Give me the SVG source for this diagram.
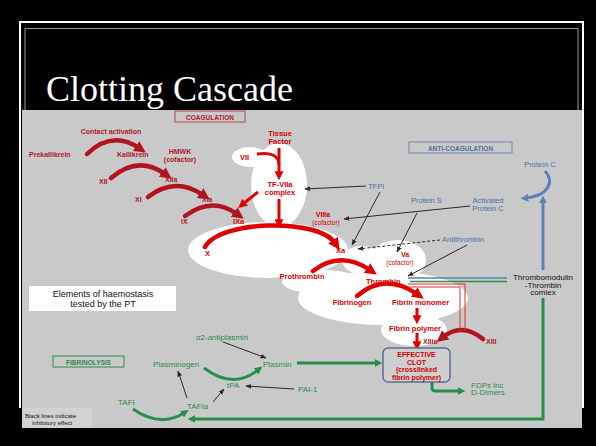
<svg xmlns="http://www.w3.org/2000/svg" width="596" height="446" viewBox="0 0 596 446">
<defs>
<style>
text{font-family:"Liberation Sans",Arial,sans-serif}
.dr{fill:#b01828;font-size:7px;font-weight:bold}
.br{fill:#d40000;font-size:7.5px;font-weight:bold}
.bl{fill:#4f70a8;font-size:7.5px}
.gr{fill:#2e8b4e;font-size:8px}
.bk{fill:#111;font-size:8px}
.c{text-anchor:middle}
.blob{fill:#fff}
.arcD{fill:none;stroke:#b3121f;stroke-width:4.5;stroke-linecap:round}
.arcR{fill:none;stroke:#e00000;stroke-width:4.5;stroke-linecap:round}
.lnR{fill:none;stroke:#e00000;stroke-width:3}
.inh{fill:none;stroke:#2a2a2a;stroke-width:1}
.grL{fill:none;stroke:#279048;stroke-width:3}
.blL{fill:none;stroke:#5b80b8;stroke-width:3}
</style>
<marker id="hD" viewBox="0 0 10 10" refX="3" refY="5" markerWidth="2.6" markerHeight="2.6" orient="auto"><path d="M0,0 L10,5 L0,10 z" fill="#b3121f"/></marker>
<marker id="hR" viewBox="0 0 10 10" refX="3" refY="5" markerWidth="2.6" markerHeight="2.6" orient="auto"><path d="M0,0 L10,5 L0,10 z" fill="#e00000"/></marker>
<marker id="hR3" viewBox="0 0 10 10" refX="3" refY="5" markerWidth="3" markerHeight="3" orient="auto"><path d="M0,0 L10,5 L0,10 z" fill="#e00000"/></marker>
<marker id="hG" viewBox="0 0 10 10" refX="3" refY="5" markerWidth="2.6" markerHeight="2.6" orient="auto"><path d="M0,0 L10,5 L0,10 z" fill="#279048"/></marker>
<marker id="hB" viewBox="0 0 10 10" refX="3" refY="5" markerWidth="2.6" markerHeight="2.6" orient="auto"><path d="M0,0 L10,5 L0,10 z" fill="#5b80b8"/></marker>
<marker id="hK" viewBox="0 0 10 10" refX="9" refY="5" markerWidth="6" markerHeight="6" markerUnits="userSpaceOnUse" orient="auto"><path d="M0,1 L10,5 L0,9 z" fill="#2a2a2a"/></marker>
</defs>

<rect width="596" height="446" fill="#000"/>
<path d="M19,22 H584 M20,22 V408 M583,22 V408" stroke="#fff" stroke-width="2" fill="none"/>
<path d="M25,110 V28.5 H578 V110" stroke="#9a9a9a" stroke-width="1" fill="none"/>
<rect x="22" y="110" width="560" height="318" fill="#c9c9c9"/>
<text x="46" y="101" style="font-family:'Liberation Serif',serif;font-size:36px" fill="#fff">Clotting Cascade</text>

<g id="pt-highlight">
<ellipse class="blob" cx="279" cy="185" rx="28" ry="42"/>
<ellipse class="blob" cx="250" cy="157" rx="18" ry="10"/>
<ellipse class="blob" cx="268" cy="250" rx="80" ry="28"/>
<ellipse class="blob" cx="362" cy="260" rx="20" ry="14"/>
<ellipse class="blob" cx="398" cy="260" rx="28" ry="20"/>
<ellipse class="blob" cx="322" cy="282" rx="40" ry="12"/>
<ellipse class="blob" cx="383" cy="298" rx="85" ry="27"/>
<ellipse class="blob" cx="414" cy="330" rx="33" ry="16"/>
</g>

<g id="coagulation-label"><rect x="175" y="111" width="70" height="11" fill="none" stroke="#c04050" stroke-width="1"/><text class="c" x="210" y="119.5" style="fill:#b01828;font-size:6.5px;font-weight:bold">COAGULATION</text></g>
<g id="anticoagulation-label"><rect x="409" y="142" width="103" height="11" fill="none" stroke="#6d86b2" stroke-width="1"/><text class="c" x="460.5" y="150.5" style="fill:#4f70a8;font-size:6.5px;font-weight:bold">ANTI-COAGULATION</text></g>
<g id="fibrinolysis-label"><rect x="53" y="356" width="71" height="11" fill="none" stroke="#2e8b4e" stroke-width="1"/><text class="c" x="88.5" y="364.5" style="fill:#2e8b4e;font-size:6.5px;font-weight:bold">FIBRINOLYSIS</text></g>
<g id="pt-legend"><rect x="29" y="286" width="147" height="25" fill="#fff"/><text class="c" x="103" y="297" style="fill:#111;font-size:9px">Elements of haemostasis</text><text class="c" x="103" y="306.5" style="fill:#111;font-size:9px">tested by the PT</text></g>
<g id="inhibitory-note"><rect x="22" y="408" width="70" height="20" fill="#d2d2d2"/><text x="25" y="417.5" style="fill:#111;font-size:6px">Black lines indicate</text><text x="32" y="425" style="fill:#111;font-size:6px">inhibitory effect</text></g>

<g id="connectors">
<path class="arcD" d="M87,154 Q112,130 139,148" marker-end="url(#hD)"/>
<path class="arcD" d="M111,178 Q138,155 165,174" marker-end="url(#hD)"/>
<path class="arcD" d="M148,197 Q175,176 203,195" marker-end="url(#hD)"/>
<path class="arcD" d="M185,216 Q212,196 237,214" marker-end="url(#hD)"/>
<path class="lnR" d="M258,192 L243,204" marker-end="url(#hR3)"/>
<path class="lnR" d="M279,148 V174" marker-end="url(#hR3)"/>
<path class="lnR" d="M257,154 C270,152 279,155 279,165"/>
<path class="lnR" d="M279,199 V222" marker-end="url(#hR3)"/>
<path class="arcR" d="M205,247 C220,220 318,218 335,243" marker-end="url(#hR)"/>
<path class="arcR" d="M313,271 Q340,250 370,270" marker-end="url(#hR)"/>
<path class="arcR" d="M357,296 Q385,272 417,294" marker-end="url(#hR)"/>
<path class="lnR" d="M417,308 V318" marker-end="url(#hR3)"/>
<path class="lnR" d="M417,333 V344" marker-end="url(#hR3)"/>
<path class="arcD" d="M483,339 Q462,322 443,337" marker-end="url(#hD)"/>
<path d="M408,284 H465 V330 M408,287 H460 V330" fill="none" stroke="#e03030" stroke-width="1"/>
<path d="M408,278 H507" stroke="#5b80b8" stroke-width="1.3"/>
<path d="M410,281.5 H507" stroke="#279048" stroke-width="1.3"/>
<path class="blL" d="M543,270 V201" marker-end="url(#hB)"/>
<path class="blL" d="M545,171 C555,182 548,196 526,198" marker-end="url(#hB)"/>
<path class="grL" d="M543,298 V419 H193" marker-end="url(#hG)"/>
<path class="grL" d="M133,409 Q160,428 184,413" marker-end="url(#hG)"/>
<path class="grL" d="M204,368 Q233,390 258,370" marker-end="url(#hG)"/>
<path class="grL" d="M297,363 H377" marker-end="url(#hG)"/>
<path class="grL" d="M432,382 V388 Q432,391 436,391 H460" marker-end="url(#hG)"/>
<path class="inh" d="M366,186 L305,189" marker-end="url(#hK)"/>
<path class="inh" d="M380,192 L352,245" marker-end="url(#hK)"/>
<path class="inh" d="M470,206 L344,219" marker-end="url(#hK)"/>
<path class="inh" d="M417,213 L397,252" marker-end="url(#hK)"/>
<path class="inh" d="M440,240 L358,249" stroke-dasharray="3,2" stroke="#444" marker-end="url(#hK)"/>
<path class="inh" d="M467,245 L408,276" marker-end="url(#hK)"/>
<path class="inh" d="M223,342 L266,358" marker-end="url(#hK)"/>
<path class="inh" d="M294,389 L246,386" marker-end="url(#hK)"/>
<path class="inh" d="M187,398 L178,371" marker-end="url(#hK)"/>
<path class="inh" d="M213,402 L224,389" marker-end="url(#hK)"/>
</g>

<g id="contact-activation"><text class="dr c" x="111" y="134">Contact activation</text></g>
<g id="prekallikrein"><text class="dr" x="29" y="157">Prekallikrein</text></g>
<g id="kallikrein"><text class="dr" x="117" y="157">Kallikrein</text></g>
<g id="hmwk"><text class="dr c" x="180" y="154">HMWK</text><text class="dr c" x="180" y="162">(cofactor)</text></g>
<g id="xii"><text class="dr" x="99" y="184">XII</text></g>
<g id="xiia"><text class="dr" x="165" y="182">XIIa</text></g>
<g id="xi"><text class="dr" x="135" y="202">XI</text></g>
<g id="xia"><text class="dr" x="202" y="202">XIa</text></g>
<g id="ix"><text class="dr" x="181" y="224">IX</text></g>
<g id="ixa"><text class="br" x="233" y="224">IXa</text></g>
<g id="tissue-factor"><text class="br c" x="280" y="136">Tissue</text><text class="br c" x="280" y="144">Factor</text></g>
<g id="vii"><text class="br" x="240" y="160">VII</text></g>
<g id="tf-viia"><text class="br c" x="280" y="187">TF-VIIa</text><text class="br c" x="280" y="195">complex</text></g>
<g id="viiia"><text class="br c" x="323" y="217" style="font-size:7px">VIIIa</text><text class="br c" x="326" y="225" style="font-weight:normal;font-size:6.5px">(cofactor)</text></g>
<g id="x"><text class="br" x="205" y="256">X</text></g>
<g id="xa"><text class="br" x="336" y="253">Xa</text></g>
<g id="va"><text class="br c" x="405" y="256.5" style="font-size:7px">Va</text><text class="br c" x="400" y="265" style="font-weight:normal;font-size:6.5px">(cofactor)</text></g>
<g id="prothrombin"><text class="br c" x="302" y="279">Prothrombin</text></g>
<g id="thrombin"><text class="br" x="366" y="283.5">Thrombin</text></g>
<g id="fibrinogen"><text class="br c" x="352" y="305">Fibrinogen</text></g>
<g id="fibrin-monomer"><text class="br" x="392" y="305">Fibrin monomer</text></g>
<g id="fibrin-polymer"><text class="br c" x="415" y="331">Fibrin polymer</text></g>
<g id="xiiia"><text class="dr" x="423" y="344">XIIIa</text></g>
<g id="xiii"><text class="dr" x="486" y="344">XIII</text></g>
<g id="effective-clot"><rect x="383" y="348" width="67" height="34" rx="5" fill="#cfcfcf" stroke="#5a6e9a" stroke-width="1.5"/><text class="br c" x="416.5" y="357" style="font-size:7px">EFFECTIVE</text><text class="br c" x="416.5" y="364.5" style="font-size:7px">CLOT</text><text class="br c" x="416.5" y="372" style="font-size:7px">(crosslinked</text><text class="br c" x="416.5" y="379.5" style="font-size:7px">fibrin polymer)</text></g>
<g id="tfpi"><text class="bl" x="368" y="188.5">TFPI</text></g>
<g id="protein-c"><text class="bl c" x="540" y="167">Protein C</text></g>
<g id="protein-s"><text class="bl" x="411" y="203">Protein S</text></g>
<g id="activated-protein-c"><text class="bl c" x="488" y="203">Activated</text><text class="bl c" x="488" y="210.5">Protein C</text></g>
<g id="antithrombin"><text class="bl" x="442" y="242">Antithrombin</text></g>
<g id="thrombomodulin"><text class="bk c" x="543" y="280">Thrombomodulin</text><text class="bk c" x="543" y="287.5">-Thrombin</text><text class="bk c" x="543" y="295">comlex</text></g>
<g id="a2-antiplasmin"><text class="gr c" x="222" y="339.5">α2-antiplasmin</text></g>
<g id="plasminogen"><text class="gr" x="153" y="366.5">Plasminogen</text></g>
<g id="plasmin"><text class="gr" x="263" y="366.5">Plasmin</text></g>
<g id="tpa"><text class="gr" x="227" y="388">tPA</text></g>
<g id="pai-1"><text class="gr" x="298" y="391.5">PAI-1</text></g>
<g id="tafi"><text class="gr" x="118" y="404.5">TAFI</text></g>
<g id="tafia"><text class="gr" x="187" y="408.5">TAFIa</text></g>
<g id="fdps"><text class="gr" x="471" y="387.5">FDPs inc</text><text class="gr" x="471" y="395">D-Dimers</text></g>
</svg>
